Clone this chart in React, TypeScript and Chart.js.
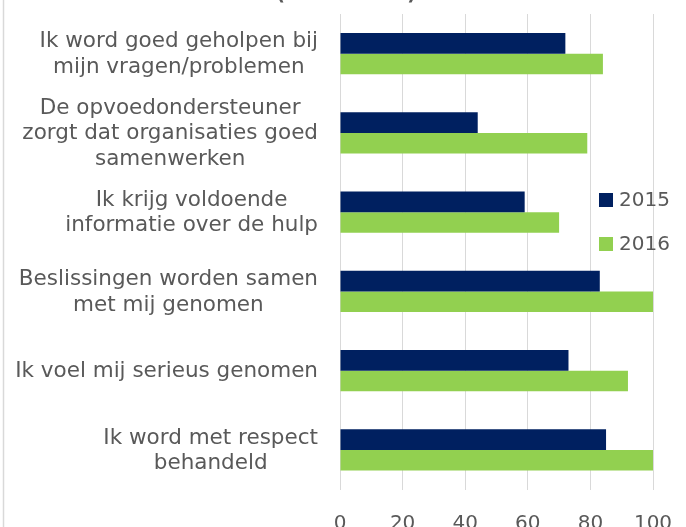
import React, { useEffect, useRef } from "react";
import { Chart, registerables } from "chart.js";

Chart.register(...registerables);

const categories: string[][] = [
  ["Ik word goed geholpen bij", "mijn vragen/problemen"],
  ["De opvoedondersteuner", "zorgt dat organisaties goed", "samenwerken"],
  ["Ik krijg voldoende", "informatie over de hulp"],
  ["Beslissingen worden samen", "met mij genomen"],
  ["Ik voel mij serieus genomen"],
  ["Ik word met respect", "behandeld"],
];
const seriesNames = ["2015", "2016"];
const values2015 = [72, 44, 59, 83, 73, 85];
const values2016 = [84, 79, 70, 100, 92, 100];
const xMin = 0;
const xMax = 100;
const xStep = 20;
const titleText = "(% tevreden)";

const FONT = "'DejaVu Sans', Verdana, sans-serif";
const TEXT = "#595959";
const NAVY = "#002060";
const GREEN = "#92D050";
const GRID = "#d9d9d9";

const customDraw = {
  id: "customDraw",
  afterDraw(chart: any) {
    const ctx = chart.ctx;
    const area = chart.chartArea;
    const yScale = chart.scales.y;
    ctx.save();
    // left border line
    ctx.strokeStyle = GRID;
    ctx.lineWidth = 1.5;
    ctx.beginPath();
    ctx.moveTo(3.5, 0);
    ctx.lineTo(3.5, chart.height);
    ctx.stroke();

    // title (mostly above the visible area)
    ctx.fillStyle = TEXT;
    ctx.font = `bold 19px ${FONT}`;
    ctx.textAlign = "center";
    ctx.textBaseline = "alphabetic";
    ctx.fillText(titleText, chart.width / 2 + 3, -0.5);

    // category labels
    ctx.font = `21.5px ${FONT}`;
    ctx.textBaseline = "middle";
    ctx.textAlign = "center";
    const lh = 25.5;
    categories.forEach((lines, i) => {
      const y = yScale.getPixelForValue(i);
      const maxW = Math.max(...lines.map((l) => ctx.measureText(l).width));
      const cx = area.left - 22 - maxW / 2;
      const y0 = y - ((lines.length - 1) * lh) / 2;
      lines.forEach((l, j) => ctx.fillText(l, cx, y0 + j * lh + 1));
    });

    // legend
    const colors = [NAVY, GREEN];
    ctx.font = `20px ${FONT}`;
    ctx.textAlign = "left";
    seriesNames.forEach((name, i) => {
      const cy = 200 + i * 44;
      ctx.fillStyle = colors[i];
      ctx.fillRect(599, cy - 7, 14, 14);
      ctx.fillStyle = TEXT;
      ctx.fillText(name, 619, cy + 1);
    });
    ctx.restore();
  },
};

export default function App() {
  const ref = useRef<HTMLCanvasElement | null>(null);
  useEffect(() => {
    if (!ref.current) return;
    const chart = new Chart(ref.current, {
      type: "bar",
      data: {
        labels: categories.map((c) => c.join(" ")),
        datasets: [
          { label: seriesNames[0], data: values2015, backgroundColor: NAVY, borderWidth: 0 },
          { label: seriesNames[1], data: values2016, backgroundColor: GREEN, borderWidth: 0 },
        ],
      },
      options: {
        indexAxis: "y",
        animation: false,
        responsive: false,
        layout: { padding: { top: 14, right: 33, left: 0, bottom: 0 } },
        datasets: { bar: { barPercentage: 1, categoryPercentage: 0.52 } },
        plugins: {
          legend: { display: false },
          title: { display: false },
          tooltip: { enabled: false },
        },
        scales: {
          x: {
            min: xMin,
            max: xMax,
            ticks: {
              stepSize: xStep,
              color: TEXT,
              font: { family: FONT, size: 20 },
              padding: 22,
            },
            grid: { color: GRID, lineWidth: 1, drawTicks: false },
            border: { display: false },
            afterFit: (s: any) => {
              s.height = 37.4;
              s.paddingLeft = 0;
              s.paddingRight = 0;
            },
          },
          y: {
            ticks: { display: false },
            grid: { display: false },
            border: { display: false },
            afterFit: (s: any) => {
              s.width = 340;
            },
          },
        },
      },
      plugins: [customDraw],
    });
    return () => chart.destroy();
  }, []);
  return (
    <div style={{ position: "fixed", left: 0, top: 0, width: 686, height: 527, background: "#fff" }}>
      <canvas ref={ref} width={686} height={527} style={{ width: 686, height: 527, display: "block" }} />
    </div>
  );
}
